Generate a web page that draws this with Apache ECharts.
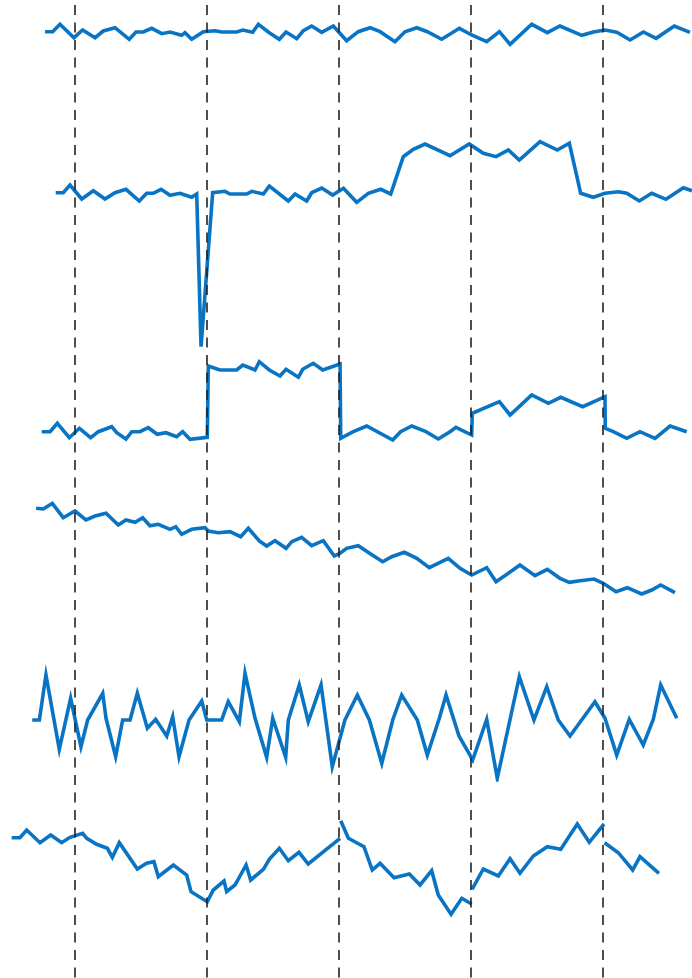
<!DOCTYPE html>
<html>
<head>
<meta charset="utf-8">
<script src="https://cdn.jsdelivr.net/npm/echarts@6/dist/echarts.min.js"></script>
<style>html,body{margin:0;padding:0;background:#fff}#c{width:692px;height:978px}</style>
</head>
<body>
<div id="c"></div>
<script>
// change points (vertical dashed lines)
const changePoints = [100, 200, 300, 400, 500];

// series values: [time, value]
const series1 = [[77.3,0.3],[83.1,0.3],[88.6,7.7],[99.2,-5.7],[105.8,2],[115.2,-5.7],[121.4,1],[130.3,4.3],[141.1,-7.3],[146.2,0],[151.7,0],[158.1,3.7],[165.7,-1.7],[172.0,0],[180.8,-3.3],[183.3,-0.7],[188.4,-7.3],[197.2,0.3],[206.1,1.3],[211.1,0],[222.5,0],[227.1,2],[234.6,-0.3],[238.9,7.7],[247.2,-0.7],[254.8,-7.3],[259.9,0],[268.0,-6.7],[273.0,1.3],[279.3,6],[286.9,-0.3],[295.7,6],[305.8,-8.7],[314.6,0.3],[323.5,4.3],[331.1,0.3],[342.4,-9.7],[350.0,0.3],[358.9,4.3],[366.9,0.3],[377.8,-7.3],[391.2,3.7],[400.5,-3],[411.9,-9.7],[421.5,0.3],[429.6,-12.3],[446.0,7.7],[457.8,-0.7],[467.4,6],[483.9,-3.3],[492.7,0],[501.5,2],[510.4,-0.3],[520.5,-8],[530.6,0],[540.2,-6.3],[554.0,6],[565.9,-0.3]];

const series2 = [[85.4,0.3],[91.1,0.3],[96.2,8],[105.1,-6],[113.9,2.3],[122.7,-6],[130.3,0.3],[138.6,3.7],[148.7,-8],[154.3,-0.3],[159.3,-0.3],[165.2,3.7],[172.0,-2.3],[179.5,-0.3],[188.4,-4.3],[192.2,-1],[195.5,-153.7],[204.3,0.3],[213.6,1.7],[217.4,-1],[230.1,-1],[233.9,1.7],[242.7,-1],[247.2,7],[261.6,-8],[266.7,-1],[275.5,-8],[279.3,0.3],[286.9,5],[295.2,-2],[303.4,4.7],[313.4,-9.3],[322.2,-0.3],[331.6,3.7],[339.2,-1],[348.7,36.3],[356.3,43.7],[365.2,49],[384.1,37.3],[398.7,49],[409.3,39.7],[419.0,36.3],[428.3,43],[436.6,33],[452.3,51.3],[465.4,43],[474.5,49.7],[483.1,-0.3],[492.7,-4.3],[501.5,-0.3],[511.6,1.3],[518.0,-0.3],[527.5,-8],[536.9,-0.3],[547.7,-6.3],[560.9,5.3],[567.4,2.3]];

const series3 = [[74.8,0.3],[81.1,0.3],[86.6,8.7],[95.7,-5.7],[103.3,3.7],[111.9,-5.7],[117.7,0.3],[127.8,5.3],[131.6,-0.7],[138.6,-7],[143.0,0.3],[149.2,0.3],[155.5,4.3],[162.3,-2.3],[168.9,-0.7],[177.0,-4.7],[181.6,0.3],[187.1,-7.3],[200.2,-5.3],[201.0,66],[209.8,62],[222.5,62],[227.1,67],[236.4,62],[239.6,70.3],[247.2,62],[255.3,56],[259.9,62.7],[269.2,54.7],[272.5,62.7],[280.5,68.7],[287.7,62],[300.8,68],[301.3,-6.3],[310.8,0.3],[321.0,6],[340.7,-8],[346.7,0.3],[355.1,6],[365.9,0.3],[375.2,-7],[384.1,0.3],[388.6,4.7],[400.5,-3],[401.0,18.7],[421.5,30.3],[429.6,17],[446.0,37],[458.6,28.7],[468.0,34.7],[484.6,25.3],[501.5,35.3],[501.7,3.7],[507.8,0.3],[518.0,-6.3],[528.0,0.3],[539.4,-6.3],[550.8,6],[563.4,0.3]];

const series4 = [[70.5,41.7],[76.0,41],[82.8,46.7],[91.1,32.3],[100.0,39],[108.3,30],[115.2,34],[123.5,36.7],[132.8,25],[138.6,30],[145.5,27.7],[151.3,32.3],[156.8,24.3],[163.1,25.7],[172.0,20.7],[176.3,23.3],[180.8,15.7],[188.4,20.7],[198.5,22.3],[201.0,19],[208.6,17.3],[217.4,18.3],[225.5,13.3],[231.3,21.7],[239.6,9],[245.2,4],[251.5,9.3],[259.9,1.7],[264.2,8.3],[271.7,12.7],[279.3,4.3],[288.1,9.3],[296.4,-6],[300.8,-3.3],[305.8,1.7],[314.6,4.3],[324.0,-4],[333.1,-11.7],[339.9,-6.7],[349.5,-2.3],[358.9,-8.3],[368.4,-17.7],[382.8,-8.3],[391.7,-18.3],[400.5,-25],[411.9,-17.7],[419.0,-31.7],[428.3,-23.3],[437.1,-15],[448.5,-25.7],[457.8,-19.3],[467.4,-28.3],[474.5,-32.3],[482.6,-30.7],[493.2,-29],[500.2,-33.3],[509.9,-41.7],[518.4,-37.7],[529.3,-44],[536.9,-40],[543.7,-35],[554.5,-42.7]];

const series5 = [[67.6,0],[73.0,0],[78.0,45],[88.1,-29.3],[96.7,21.7],[104.5,-26.7],[109.6,0],[121.0,26.7],[123.5,1.7],[130.8,-36.7],[136.1,0],[141.7,0],[147.2,26.7],[154.8,-8.3],[161.1,0.7],[169.5,-16],[174.0,3.3],[178.8,-36.7],[186.4,0],[196.0,19],[199.8,0],[211.1,0],[216.1,18.3],[224.5,-1.7],[228.8,46.7],[236.4,1.7],[245.2,-37.3],[249.8,1.7],[259.6,-37.3],[261.6,0],[269.9,35],[276.7,-1.7],[286.4,35],[294.9,-46.7],[304.5,0],[313.9,25],[323.0,0],[332.4,-43.3],[340.7,0],[347.5,25],[359.3,0],[366.9,-35],[376.0,1.7],[381.1,25],[390.9,-16],[401.3,-40],[411.9,0.7],[419.9,-58.3],[436.6,43.3],[447.7,0],[457.4,33.3],[466.1,0],[475.0,-16],[493.9,18.3],[501.5,1.7],[510.4,-35],[519.9,0.7],[530.5,-25],[538.1,0.7],[543.7,35],[555.9,1.7]];

const series6 = [[52.0,22.3],[58.3,22.3],[63.4,30],[73.5,17.3],[81.6,25],[89.9,17.3],[96.2,22.7],[105.8,26.7],[108.9,21.7],[116.4,15.7],[124.5,11.7],[128.3,2.7],[133.6,17.3],[147.2,-9],[154.3,-3.3],[159.8,-1.7],[163.1,-16.7],[174.5,-5],[184.6,-15],[187.9,-31.7],[200.2,-41.7],[204.8,-30],[212.9,-21],[214.9,-31.7],[221.2,-25],[229.6,-5],[233.1,-20],[242.7,-9.3],[247.2,0.7],[254.8,11.7],[261.6,-0.7],[269.7,7.7],[276.7,-4],[300.8,21.7],[300.9,null],[301.3,39.3],[307.1,21.7],[318.9,13.3],[325.2,-10],[331.1,-3.3],[341.7,-17.7],[353.3,-14],[361.4,-25],[370.2,-10.7],[375.2,-35],[384.9,-54.3],[393.0,-38.3],[400.5,-44],[400.6,null],[400.8,-29.3],[409.3,-9],[420.7,-16],[429.6,1.3],[437.1,-13.3],[447.2,4],[457.8,13.3],[468.0,10.7],[480.5,36],[489.6,17.7],[500.8,36],[501.0,null],[501.2,17.3],[511.6,7.3],[522.5,-10],[528.0,3.3],[542.4,-13.3]];

const allSeries = [series1, series2, series3, series4, series5, series6];

// layout (pixels) and value ranges per panel
const panels = [
  {top:0,   height:64,  min:-32,  max:32},
  {top:133, height:220, min:-160, max:60},
  {top:352, height:100, min:-20,  max:80},
  {top:490, height:120, min:-60,  max:60},
  {top:660, height:120, min:-60,  max:60},
  {top:800, height:120, min:-60,  max:60}
];
const X_MIN = 50, X_MAX = 567.4, LEFT = 9, WIDTH = 682.97;
const LINE_COLOR = '#0a74c4';

const grid = [], xAxis = [], yAxis = [], series = [];
panels.forEach((p, i) => {
  grid.push({left: LEFT, width: WIDTH, top: p.top, height: p.height});
  xAxis.push({type:'value', gridIndex:i, min:X_MIN, max:X_MAX, show:false});
  yAxis.push({type:'value', gridIndex:i, min:p.min, max:p.max, show:false});
  series.push({
    type:'line', xAxisIndex:i, yAxisIndex:i, data: allSeries[i],
    showSymbol:false, symbol:'none', connectNulls:false,
    lineStyle:{color:LINE_COLOR, width:3.6, join:'miter'},
    z: 3
  });
});
// full-height panel for change-point lines
grid.push({left: LEFT, width: WIDTH, top: 5, bottom: 0});
xAxis.push({type:'value', gridIndex:6, min:X_MIN, max:X_MAX, show:false});
yAxis.push({type:'value', gridIndex:6, min:0, max:1, show:false, inverse:true});
series.push({
  type:'line', xAxisIndex:6, yAxisIndex:6, data:[], symbol:'none', z:1,
  markLine:{
    silent:true, symbol:['none','none'], label:{show:false},
    lineStyle:{color:'#222222', width:1.6, type:[10,7.5]},
    data: changePoints.map(v => ({xAxis:v}))
  }
});

const chart = echarts.init(document.getElementById('c'), null, {renderer:'canvas'});
chart.setOption({animation:false, backgroundColor:'#ffffff', grid, xAxis, yAxis, series});
</script>
</body>
</html>
